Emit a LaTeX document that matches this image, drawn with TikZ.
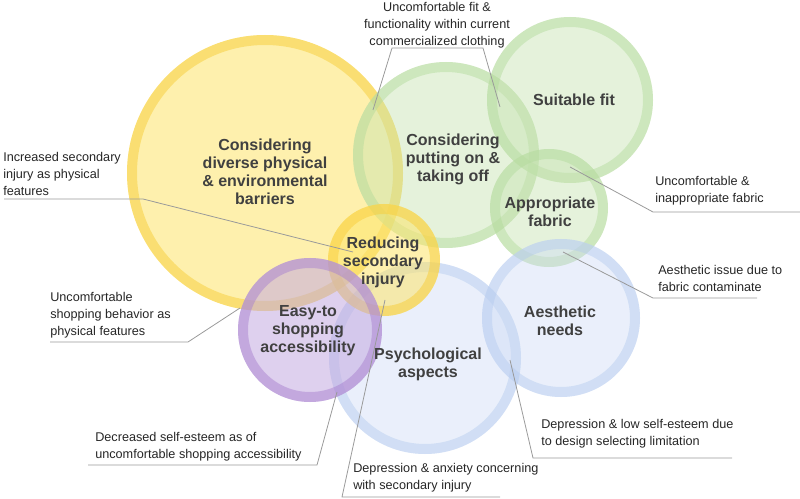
\documentclass[tikz,border=0pt]{standalone}
\usepackage{fontspec}
\setmainfont{Liberation Sans}
\usetikzlibrary{calc}
\definecolor{yellowfill}{HTML}{FDE46A}
\definecolor{yellowring}{HTML}{F8CD38}
\definecolor{greenfill}{HTML}{C5E3B0}
\definecolor{greenring}{HTML}{B2D99A}
\definecolor{bluefill}{HTML}{CCDAF5}
\definecolor{bluering}{HTML}{B3C9EE}
\definecolor{purplefill}{HTML}{C3A9E0}
\definecolor{purplering}{HTML}{A982D0}
\definecolor{topictext}{HTML}{404040}
\definecolor{notetext}{HTML}{262626}
\definecolor{leadergray}{HTML}{9A9A9A}
\tikzset{
    my-yellow/.style={fill=yellowfill, fill opacity=0.55},
    my-yellow-ring/.style={draw=yellowring, draw opacity=0.5, line width=7.5pt},
    my-green/.style={fill=greenfill, fill opacity=0.45},
    my-green-ring/.style={draw=greenring, draw opacity=0.45, line width=7.5pt},
    my-blue/.style={fill=bluefill, fill opacity=0.42},
    my-blue-ring/.style={draw=bluering, draw opacity=0.45, line width=7.5pt},
    my-purple/.style={fill=purplefill, fill opacity=0.55},
    my-purple-ring/.style={draw=purplering, draw opacity=0.5, line width=7.5pt},
    my-topic/.style={
        font=\fontsize{12}{13.5}\selectfont\bfseries, text=topictext, align=center, inner sep=0pt
    },
    my-note/.style={
        font=\fontsize{9.5}{12.75}\selectfont, text=notetext, align=left, inner sep=0pt, anchor=west
    },
    my-leader/.style={draw=leadergray, line width=0.6pt},
}
\begin{document}
\begin{tikzpicture}[x=0.75pt, y=-0.75pt]

        \useasboundingbox (0,0) rectangle (800,499);

        % CIRCLE CENTRES --------------------------------------------------------------------------------
        \coordinate (BARRIERS) at (265, 173);
        \coordinate (PUTON)    at (446, 155);
        \coordinate (FIT)      at (570, 100);
        \coordinate (FABRIC)   at (549, 208);
        \coordinate (REDUCE)   at (384, 260);
        \coordinate (PSYCH)    at (425, 358);
        \coordinate (AESTH)    at (561, 318);
        \coordinate (SHOP)     at (310, 330);

        % YELLOW AND GREEN CIRCLES
        \fill[my-yellow]      (BARRIERS) circle[radius=138];
        \draw[my-yellow-ring] (BARRIERS) circle[radius=133];
        \fill[my-green]       (PUTON)    circle[radius=93];
        \draw[my-green-ring]  (PUTON)    circle[radius=88];
        \fill[my-green]       (FIT)      circle[radius=83];
        \draw[my-green-ring]  (FIT)      circle[radius=78];
        \fill[my-green]       (FABRIC)   circle[radius=59];
        \draw[my-green-ring]  (FABRIC)   circle[radius=54];

        % BLUE CIRCLES
        \fill[my-blue]        (PSYCH)    circle[radius=96];
        \draw[my-blue-ring]   (PSYCH)    circle[radius=91];
        \fill[my-blue]        (AESTH)    circle[radius=79];
        \draw[my-blue-ring]   (AESTH)    circle[radius=74];

        % SMALL YELLOW AND PURPLE CIRCLES
        \fill[my-yellow]      (REDUCE)   circle[radius=56];
        \draw[my-yellow-ring] (REDUCE)   circle[radius=51];
        \fill[my-purple]      (SHOP)     circle[radius=72];
        \draw[my-purple-ring] (SHOP)     circle[radius=67];

        % TOPIC LABELS ----------------------------------------------------------------------------------
        \node[my-topic] (BARRIERSTXT) at ($(BARRIERS) + (0, -1)$) {Considering\\diverse physical\\\& environmental\\barriers};
        \node[my-topic] (PUTONTXT)    at ($(PUTON)   + (7, 4)$)   {Considering\\putting on \&\\taking off};
        \node[my-topic] (FITTXT)      at ($(FIT)     + (4, 0)$)   {Suitable fit};
        \node[my-topic] (FABRICTXT)   at ($(FABRIC)  + (1, 4)$)   {Appropriate\\fabric};
        \node[my-topic] (REDUCETXT)   at ($(REDUCE)  + (-1, 2)$)  {Reducing\\secondary\\injury};
        \node[my-topic] (SHOPTXT)     at ($(SHOP)    + (-2, 1)$)  {Easy-to\\shopping\\accessibility};
        \node[my-topic] (PSYCHTXT)    at ($(PSYCH)   + (3, 6)$)   {Psychological\\aspects};
        \node[my-topic] (AESTHTXT)    at ($(AESTH)   + (-1, 3)$)  {Aesthetic\\needs};

        % NOTES, UNDERLINES AND LEADERS -----------------------------------------------------------------

        % INCREASED SECONDARY INJURY
        \node[my-note] (INCR) at (3, 174) {Increased secondary\\injury as physical\\features};
        \coordinate (INCRL) at (4, 199);
        \coordinate (INCRR) at (143, 199);
        \coordinate (INCRT) at (353, 252);
        \draw[my-leader] (INCRL) -- (INCRR) -- (INCRT);

        % UNCOMFORTABLE SHOPPING BEHAVIOR
        \node[my-note] (BEHAV) at (50, 315) {Uncomfortable\\shopping behavior as\\physical features};
        \coordinate (BEHAVL) at (50, 342);
        \coordinate (BEHAVR) at (188, 342);
        \coordinate (BEHAVT) at (240, 308);
        \draw[my-leader] (BEHAVL) -- (BEHAVR) -- (BEHAVT);

        % UNCOMFORTABLE FIT AND FUNCTIONALITY
        \node[my-note, anchor=center, align=center] (FUNC) at (437, 25) {Uncomfortable fit \&\\functionality within current\\commercialized clothing};
        \coordinate (FUNCL)  at (392, 48);
        \coordinate (FUNCR)  at (483, 48);
        \coordinate (FUNCT1) at (373, 110);
        \coordinate (FUNCT2) at (500, 107);
        \draw[my-leader] (FUNCT1) -- (FUNCL) -- (FUNCR) -- (FUNCT2);

        % UNCOMFORTABLE FABRIC
        \node[my-note] (INAPP) at (655, 191) {Uncomfortable \&\\inappropriate fabric};
        \coordinate (INAPPL) at (653, 212);
        \coordinate (INAPPR) at (800, 212);
        \coordinate (INAPPT) at (570, 167);
        \draw[my-leader] (INAPPR) -- (INAPPL) -- (INAPPT);

        % AESTHETIC ISSUE
        \node[my-note] (CONTAM) at (658, 278) {Aesthetic issue due to\\fabric contaminate};
        \coordinate (CONTAML) at (653, 298);
        \coordinate (CONTAMR) at (757, 298);
        \coordinate (CONTAMT) at (563, 252);
        \draw[my-leader] (CONTAMR) -- (CONTAML) -- (CONTAMT);

        % LOW SELF-ESTEEM
        \node[my-note] (LIMIT) at (541, 434) {Depression \& low self-esteem due\\to design selecting limitation};
        \coordinate (LIMITL) at (533, 458);
        \coordinate (LIMITR) at (732, 458);
        \coordinate (LIMITT) at (510, 360);
        \draw[my-leader] (LIMITR) -- (LIMITL) -- (LIMITT);

        % ANXIETY
        \node[my-note] (ANXI) at (353, 478) {Depression \& anxiety concerning\\with secondary injury};
        \coordinate (ANXIL) at (342, 497);
        \coordinate (ANXIR) at (500, 497);
        \coordinate (ANXIT) at (385, 300);
        \draw[my-leader] (ANXIR) -- (ANXIL) -- (ANXIT);

        % DECREASED SELF-ESTEEM
        \node[my-note] (ESTEEM) at (95, 447) {Decreased self-esteem as of\\uncomfortable shopping accessibility};
        \coordinate (ESTEEML) at (88, 465);
        \coordinate (ESTEEMR) at (317, 465);
        \coordinate (ESTEEMT) at (337, 392);
        \draw[my-leader] (ESTEEML) -- (ESTEEMR) -- (ESTEEMT);

    \end{tikzpicture}
\end{document}
